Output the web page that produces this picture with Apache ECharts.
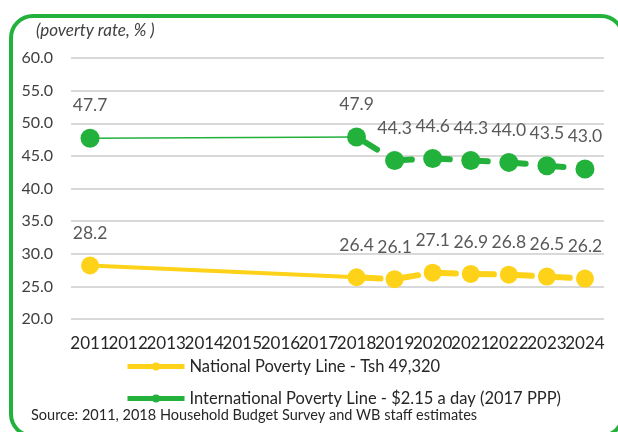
<!DOCTYPE html>
<html><head><meta charset="utf-8">
<script src="https://cdn.jsdelivr.net/npm/echarts@6/dist/echarts.min.js"></script>
<style>html,body{margin:0;padding:0;background:#fff}#c{width:618px;height:432px}</style>
</head><body><div id="c"></div>
<script>
var years = ['2011','2012','2013','2014','2015','2016','2017','2018','2019','2020','2021','2022','2023','2024'];
var yTicks = [20, 25, 30, 35, 40, 45, 50, 55, 60];
var nationalName = 'National Poverty Line - Tsh 49,320';
var internationalName = 'International Poverty Line - $2.15 a day (2017 PPP)';
var national = [28.2, null, null, null, null, null, null, 26.4, 26.1, 27.1, 26.9, 26.8, 26.5, 26.2];
var international = [47.7, null, null, null, null, null, null, 47.9, 44.3, 44.6, 44.3, 44.0, 43.5, 43.0];
var surveyYearIdx = [0, 7];
var projStart = 7;

var GREEN = '#22b23c', YELLOW = '#fdd218', FONT = 'Lato';

function solidData(arr) {
  return arr.map(function (v, i) {
    if (surveyYearIdx.indexOf(i) < 0) return null;
    if (i === surveyYearIdx[0]) return v;
    return { value: v, label: { show: false }, symbol: 'none' };
  });
}
function dashData(arr) {
  return arr.map(function (v, i) { return i >= projStart ? v : null; });
}
var labelCfg = { show: true, position: 'top', distance: 14, color: '#595959', fontSize: 17.5, fontFamily: FONT,
  formatter: function (p) { return p.value == null ? '' : Number(p.value).toFixed(1); } };
var legendText = { fontSize: 16.5, color: '#262626', fontFamily: FONT };

var chart = echarts.init(document.getElementById('c'), null, { renderer: 'canvas' });
chart.setOption({
  animation: false,
  textStyle: { fontFamily: FONT },
  title: { text: '(poverty rate, % )', left: 31, top: 17,
    textStyle: { fontSize: 17, fontStyle: 'italic', fontWeight: 'normal', color: '#404040', fontFamily: FONT } },
  grid: { left: 71, right: 14, top: 58, bottom: 113 },
  xAxis: { type: 'category', data: years, boundaryGap: true,
    axisLine: { show: false }, axisTick: { show: false },
    axisLabel: { interval: 0, color: '#262626', fontSize: 17, margin: 16, fontFamily: FONT } },
  yAxis: { type: 'value', min: yTicks[0], max: yTicks[yTicks.length - 1], interval: 5,
    axisLine: { show: false }, axisTick: { show: false },
    axisLabel: { color: '#404040', fontSize: 16, margin: 18, fontFamily: FONT, formatter: function (v) { return v.toFixed(1); } },
    splitLine: { lineStyle: { color: '#d9d9d9', width: 2 } } },
  legend: [
    { data: [nationalName], left: 120, top: 353, orient: 'vertical', itemWidth: 57, itemHeight: 10,
      textStyle: legendText, lineStyle: { width: 5, type: 'solid' }, itemStyle: { color: YELLOW } },
    { data: [internationalName], left: 120, top: 385, orient: 'vertical', itemWidth: 57, itemHeight: 10,
      textStyle: legendText, lineStyle: { width: 5, type: 'solid' }, itemStyle: { color: GREEN } }
  ],
  graphic: [
    { type: 'rect', shape: { x: 11, y: 16, width: 612, height: 420, r: 22 },
      style: { fill: 'none', stroke: GREEN, lineWidth: 4 }, z: 100 },
    { type: 'text', left: 31, top: 408, style: { text: 'Source: 2011, 2018 Household Budget Survey and WB staff estimates',
      fill: '#262626', fontSize: 14.5, fontFamily: FONT } }
  ],
  series: [
    { name: nationalName, type: 'line', data: solidData(national), connectNulls: true,
      symbol: 'circle', symbolSize: 18, itemStyle: { color: YELLOW },
      lineStyle: { color: YELLOW, width: 4 }, label: labelCfg, z: 2 },
    { name: nationalName, type: 'line', data: dashData(national), connectNulls: false,
      symbol: 'circle', symbolSize: 18, itemStyle: { color: YELLOW },
      lineStyle: { color: YELLOW, width: 6, type: [20, 18], dashOffset: -4, cap: 'round' }, label: labelCfg, z: 3 },
    { name: internationalName, type: 'line', data: solidData(international), connectNulls: true,
      symbol: 'circle', symbolSize: 19, itemStyle: { color: GREEN },
      lineStyle: { color: GREEN, width: 1.5 }, label: labelCfg, z: 2 },
    { name: internationalName, type: 'line', data: dashData(international), connectNulls: false,
      symbol: 'circle', symbolSize: 19, itemStyle: { color: GREEN },
      lineStyle: { color: GREEN, width: 6, type: [20, 18], dashOffset: -4, cap: 'round' }, label: labelCfg, z: 3 }
  ]
});
</script></body></html>
